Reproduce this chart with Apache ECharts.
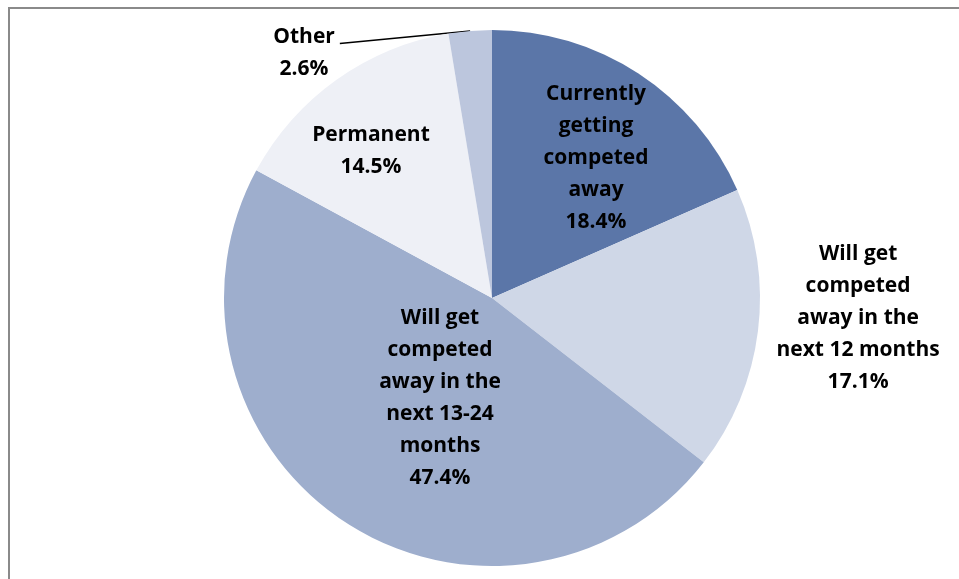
<!DOCTYPE html>
<html>
<head>
<meta charset="utf-8">
<title>Pie</title>
<script src="https://cdn.jsdelivr.net/npm/echarts@6/dist/echarts.min.js"></script>
<style>
  html, body { margin: 0; padding: 0; background: #ffffff; }
  #chart { width: 959px; height: 579px; }
</style>
</head>
<body>
<div id="chart"></div>
<script>
// Share of each category (percent), clockwise from 12 o'clock
const categories = [
  'Currently\ngetting\ncompeted\naway',
  'Will get\ncompeted\naway in the\nnext 12 months',
  'Will get\ncompeted\naway in the\nnext 13-24\nmonths',
  'Permanent',
  'Other'
];
const values = [18.4, 17.1, 47.4, 14.5, 2.6];
const colors = ['#5b76a8', '#cfd7e7', '#9eaecd', '#eef0f6', '#bcc6dd'];

// Label placement around the pie centre: fraction of radius and angle (deg, clockwise from top)
const labelPolar = [
  { r: 0.651, a: 36.6 },
  { r: 1.368, a: 93.1 },
  { r: 0.42, a: 207.5 },
  { r: 0.71, a: 320.5 },
  { r: 1.152, a: 322.5 }
];

const CX = 492, CY = 298, R = 268;

const chart = echarts.init(document.getElementById('chart'), null, { renderer: 'canvas' });

const data = categories.map((name, i) => ({
  name: name,
  value: values[i],
  itemStyle: { color: colors[i] },
  label: { position: (i === 1 || i === 4) ? 'outside' : 'inside' },
  labelLine: { show: i === 4, length: 1, length2: 120, lineStyle: { color: '#000', width: 1.5 } }
}));

chart.setOption({
  animation: false,
  graphic: [{
    type: 'rect',
    shape: { x: 9, y: 8, width: 1000, height: 700 },
    style: { fill: 'none', stroke: '#8a8a8a', lineWidth: 2 },
    silent: true
  }],
  series: [{
    type: 'pie',
    center: [CX, CY],
    radius: R,
    startAngle: 90,
    clockwise: true,
    avoidLabelOverlap: false,
    itemStyle: { borderWidth: 0 },
    label: {
      show: true,
      formatter: p => p.name + '\n' + p.value.toFixed(1) + '%',
      fontFamily: 'Open Sans',
      fontWeight: 'bold',
      fontSize: 21,
      lineHeight: 32,
      color: '#000',
      align: 'center'
    },
    emphasis: { disabled: true },
    labelLayout: function (params) {
      const i = params.dataIndex;
      const pp = labelPolar[i];
      const ang = pp.a * Math.PI / 180;
      const x = CX + pp.r * R * Math.sin(ang);
      const y = CY - pp.r * R * Math.cos(ang);
      const out = { x: x, y: y, align: 'center', verticalAlign: 'middle' };
      if (i === 4 && params.labelLinePoints) {
        const start = params.labelLinePoints[0];
        const w = params.labelRect.width, h = params.labelRect.height;
        out.labelLinePoints = [start, [x + w / 2 + 5, y - h * 0.15]];
      }
      return out;
    },
    data: data
  }]
});
</script>
</body>
</html>
